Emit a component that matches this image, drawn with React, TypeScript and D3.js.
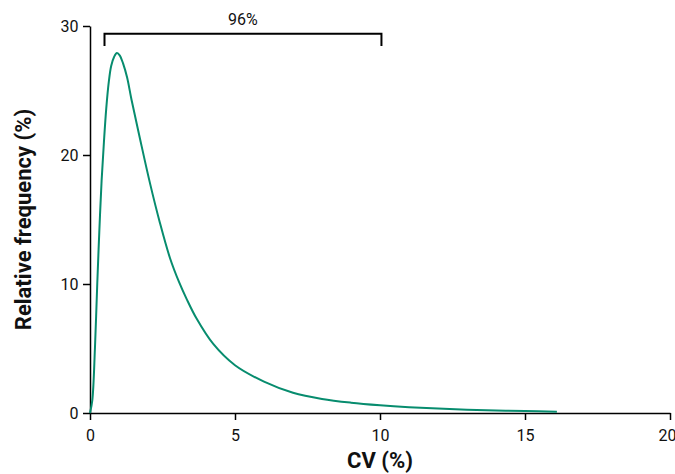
import React, { useEffect, useRef } from 'react';
import * as d3 from 'd3';

// CV distribution
const cvValues = [0, 0.08, 0.17, 0.25, 0.32, 0.4, 0.48, 0.56, 0.65, 0.73, 0.83, 0.93, 1.03, 1.14, 1.28, 1.43, 1.72, 2.07, 2.41, 2.76, 3.08, 3.33, 3.68, 4.25, 5, 6, 7, 8, 9, 10, 11, 12, 13, 14, 15, 16.1];
const freqValues = [0, 1, 5, 10, 14, 18, 21.0, 23.6, 25.7, 26.9, 27.6, 27.9, 27.7, 27.1, 26, 24.3, 21.3, 17.8, 14.75, 12.0, 10.1, 8.85, 7.3, 5.35, 3.7, 2.43, 1.57, 1.09, 0.8, 0.6, 0.45, 0.34, 0.26, 0.2, 0.15, 0.1];

const xMajorTicks = [0, 5, 10, 15, 20];
const xMinorTicks = [1, 2, 3, 4, 6, 7, 8, 9, 11, 12, 13, 14, 16, 17, 18, 19];
const yMajorTicks = [0, 10, 20, 30];
const yMinorTicks = [5, 15, 25];

// bracket covering 96% of the distribution
const bracketRange = [0.5, 10.05];
const bracketTop = 29.4;
const bracketBottom = 28.45;
const bracketLabel = '96%';

const W = 675;
const H = 474;
const margin = { top: 26, right: 5, bottom: 61, left: 90 };
const font = 'Roboto, "Liberation Sans", Arial, sans-serif';

const App: React.FC = () => {
  const svgRef = useRef<SVGSVGElement>(null);

  useEffect(() => {
    if (!svgRef.current) return;
    const svg = d3.select(svgRef.current);
    svg.selectAll('*').remove();

    const x = d3.scaleLinear().domain([0, 20]).range([margin.left, W - margin.right]);
    const y = d3.scaleLinear().domain([0, 30]).range([H - margin.bottom, margin.top]);

    // x axis
    const xg = svg.append('g').attr('transform', `translate(0,${y(0)})`);
    xg.call(d3.axisBottom(x).tickValues(xMinorTicks).tickSize(4).tickFormat(() => ''));
    xg.call(d3.axisBottom(x).tickValues(xMajorTicks).tickSize(7).tickSizeOuter(0).tickFormat(d3.format('d')));

    // y axis
    const yg = svg.append('g').attr('transform', `translate(${x(0)},0)`);
    yg.call(d3.axisLeft(y).tickValues(yMinorTicks).tickSize(4).tickFormat(() => ''));
    yg.call(d3.axisLeft(y).tickValues(yMajorTicks).tickSize(7).tickSizeOuter(0).tickFormat(d3.format('d')));

    svg.selectAll('.domain').attr('stroke', '#000').attr('stroke-width', 1.5);
    svg.selectAll('.tick line').attr('stroke', '#000').attr('stroke-width', 1.5);
    svg.selectAll('.tick text')
      .attr('font-family', font)
      .attr('font-size', 16)
      .attr('fill', '#111');
    xg.selectAll('.tick text').attr('dy', '1.1em');
    // last label sits against the right edge in the reference
    xg.selectAll<SVGTextElement, number>('.tick text')
      .filter(d => d === 20)
      .attr('text-anchor', 'end')
      .attr('dx', 6);
    yg.selectAll('.tick text').attr('dx', '-0.1em');

    // curve
    const pts = cvValues.map((v, i) => [v, freqValues[i]] as [number, number]);
    const line = d3.line<[number, number]>()
      .x(d => x(d[0]))
      .y(d => y(d[1]))
      .curve(d3.curveCatmullRom.alpha(0.5));

    svg.append('path')
      .datum(pts)
      .attr('d', line)
      .attr('fill', 'none')
      .attr('stroke', '#078c6e')
      .attr('stroke-width', 2);

    // bracket
    const bx0 = x(bracketRange[0]);
    const bx1 = x(bracketRange[1]);
    svg.append('path')
      .attr('d', `M${bx0},${y(bracketBottom)}V${y(bracketTop)}H${bx1}V${y(bracketBottom)}`)
      .attr('fill', 'none')
      .attr('stroke', '#000')
      .attr('stroke-width', 2);

    svg.append('text')
      .attr('x', (bx0 + bx1) / 2)
      .attr('y', y(bracketTop) - 9)
      .attr('text-anchor', 'middle')
      .attr('font-family', font)
      .attr('font-size', 16)
      .attr('fill', '#111')
      .text(bracketLabel);

    // axis titles
    svg.append('text')
      .attr('x', x(10))
      .attr('y', H - 6)
      .attr('text-anchor', 'middle')
      .attr('font-family', font)
      .attr('font-weight', 'bold')
      .attr('font-size', 22)
      .attr('fill', '#111')
      .text('CV (%)');

    svg.append('text')
      .attr('transform', `translate(31,${(y(0) + y(30)) / 2}) rotate(-90)`)
      .attr('text-anchor', 'middle')
      .attr('font-family', font)
      .attr('font-weight', 'bold')
      .attr('font-size', 22)
      .attr('fill', '#111')
      .text('Relative frequency (%)');
  }, []);

  return (
    <svg
      ref={svgRef}
      width={W}
      height={H}
      style={{ position: 'absolute', left: 0, top: 0, background: '#fff' }}
    />
  );
};

export default App;
